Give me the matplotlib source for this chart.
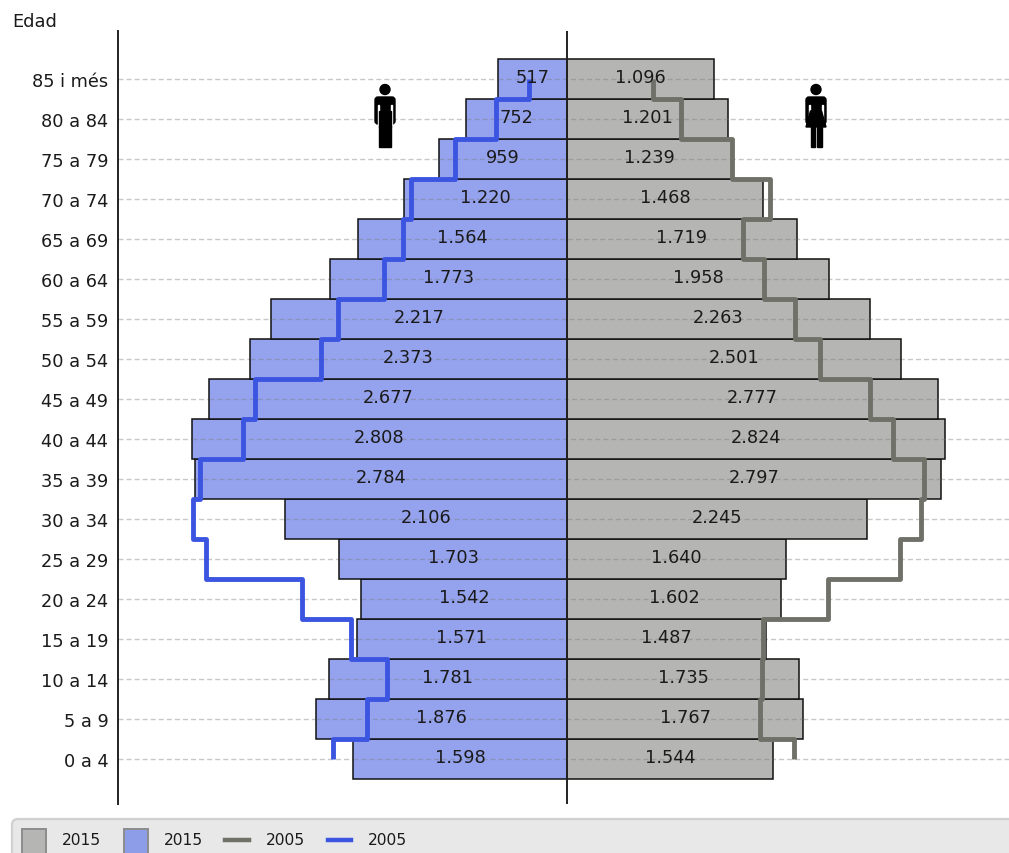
import matplotlib
matplotlib.use('Agg')
import matplotlib.pyplot as plt
from matplotlib.patches import Rectangle, Circle, FancyBboxPatch, Polygon
from matplotlib.lines import Line2D
import numpy as np

W, H = 1009, 854

groups = ['0 a 4', '5 a 9', '10 a 14', '15 a 19', '20 a 24', '25 a 29', '30 a 34', '35 a 39', '40 a 44',
          '45 a 49', '50 a 54', '55 a 59', '60 a 64', '65 a 69', '70 a 74', '75 a 79', '80 a 84', '85 i més']

men_2015 = [1598, 1876, 1781, 1571, 1542, 1703, 2106, 2784, 2808, 2677, 2373, 2217, 1773, 1564, 1220, 959, 752, 517]
women_2015 = [1544, 1767, 1735, 1487, 1602, 1640, 2245, 2797, 2824, 2777, 2501, 2263, 1958, 1719, 1468, 1239, 1201, 1096]
men_2005 = [1750, 1496, 1346, 1616, 1982, 2700, 2797, 2745, 2423, 2334, 1840, 1713, 1369, 1227, 1167, 838, 531, 284]
women_2005 = [1698, 1444, 1458, 1466, 1952, 2491, 2648, 2670, 2438, 2266, 1892, 1705, 1473, 1316, 1518, 1234, 853, 643]

men_color = '#95a3ee'
women_color = '#b5b5b3'
men_line = '#3b55e0'
women_line = '#6f7068'
txt = '#1a1a1a'


def fmt(v):
    return f'{v:,}'.replace(',', '.')


def stepped(vals):
    # each age group is one vertical run, ends stop at the middle of the band
    y = np.arange(len(vals))
    ys = np.column_stack([y - 0.5, y + 0.5]).ravel()
    xs = np.repeat(vals, 2)
    ys[0] = 0
    ys[-1] = len(vals) - 1
    return xs, ys


plt.rcParams['font.family'] = 'DejaVu Sans'
fig = plt.figure(figsize=(W / 100, H / 100), dpi=100)

# axes frame runs from the left rule to the image edge
ax = fig.add_axes([118 / W, 1 - 805 / H, (W - 118) / W, (805 - 32) / H])
scale = 0.1337
ax.set_xlim((118 - 567) / scale, (W - 567) / scale)
ax.set_ylim(-45 / 40, (760 - 32) / 40)

y = np.arange(len(groups))
dash = (0, (3.6, 2.2))
ax.hlines(y, *ax.get_xlim(), colors='#c8c8c8', linestyles=dash, lw=1, zorder=1)
ax.barh(y, -np.array(men_2015), height=1, color=men_color, edgecolor='#111111', lw=1.1, zorder=2)
ax.barh(y, women_2015, height=1, color=women_color, edgecolor='#111111', lw=1.1, zorder=2)
# dashes stay faintly visible through the bars
ax.hlines(y, -np.array(men_2015), women_2015, colors='#777777', linestyles=dash, lw=1, alpha=0.4, zorder=2.5)

mx, my = stepped(men_2005)
wx, wy = stepped(women_2005)
ax.plot(-mx, my, color=men_line, lw=3.5, solid_joinstyle='round', solid_capstyle='butt', zorder=3)
ax.plot(wx, wy, color=women_line, lw=3.5, solid_joinstyle='round', solid_capstyle='butt', zorder=3)

for i in y:
    ax.text(-men_2015[i] / 2, i + 0.04, fmt(men_2015[i]), ha='center', va='center', fontsize=12.8, color=txt, zorder=4)
    ax.text(women_2015[i] / 2, i + 0.04, fmt(women_2015[i]), ha='center', va='center', fontsize=12.8, color=txt, zorder=4)

ax.axvline(0, color='#222222', lw=1.4, zorder=5)
for s in ['top', 'right', 'bottom']:
    ax.spines[s].set_visible(False)
ax.spines['left'].set_color('#222222')
ax.spines['left'].set_linewidth(1.4)
ax.set_xticks([])
ax.set_yticks(y, groups, fontsize=12.8, color=txt)
ax.tick_params(axis='y', length=0, pad=7)
fig.text(12 / W, 1 - 22 / H, 'Edad', fontsize=12.8, color=txt, va='center')


# overlay in image pixels, y pointing down
ov = fig.add_axes([0, 0, 1, 1])
ov.set_xlim(0, W)
ov.set_ylim(H, 0)
ov.axis('off')
ov.patch.set_alpha(0)


def person(cx, woman=False):
    ov.add_patch(Circle((cx, 90.5), 5, color='black', zorder=6))
    ov.add_patch(FancyBboxPatch((cx - 10, 98), 20, 27, boxstyle='round,pad=0,rounding_size=3', color='black', zorder=6))
    # slits between arms and body
    ov.add_patch(Rectangle((cx - 6.8, 106), 0.7, 21, color='white', zorder=7))
    ov.add_patch(Rectangle((cx + 6.1, 106), 0.7, 21, color='white', zorder=7))
    if woman:
        ov.add_patch(Polygon([(cx - 5.5, 112), (cx + 5.5, 112), (cx + 10, 128), (cx - 10, 128)], color='black', zorder=8))
        ov.add_patch(Rectangle((cx - 5.5, 127), 4.8, 21, color='black', zorder=8))
        ov.add_patch(Rectangle((cx + 0.7, 127), 4.8, 21, color='black', zorder=8))
    else:
        ov.add_patch(Rectangle((cx - 6, 112), 12, 16, color='black', zorder=8))
        ov.add_patch(Rectangle((cx - 6, 127), 5.6, 21, color='black', zorder=8))
        ov.add_patch(Rectangle((cx + 0.4, 127), 5.6, 21, color='black', zorder=8))


person(385)
person(816, woman=True)

# legend strip, cut off by the bottom edge
ov.add_patch(FancyBboxPatch((12, 820), 1020, 60, boxstyle='round,pad=0,rounding_size=6',
                            facecolor='#e8e8e8', edgecolor='#d0d0d0', lw=1.6))
ov.add_patch(Rectangle((22, 830), 24, 28, facecolor=women_color, edgecolor='#8c8c8c', lw=1.4))
ov.add_patch(Rectangle((124, 830), 24, 28, facecolor='#8e9de8', edgecolor='#8c8c8c', lw=1.4))
ov.add_line(Line2D([225, 249], [841, 841], color=women_line, lw=3.2))
ov.add_line(Line2D([328, 351], [841, 841], color=men_line, lw=3.2))
for px, label in zip([62, 164, 266, 368], ['2015', '2015', '2005', '2005']):
    ov.text(px, 841, label, fontsize=11.2, color=txt, va='center', ha='left')

fig.savefig('out.png', dpi=100)
